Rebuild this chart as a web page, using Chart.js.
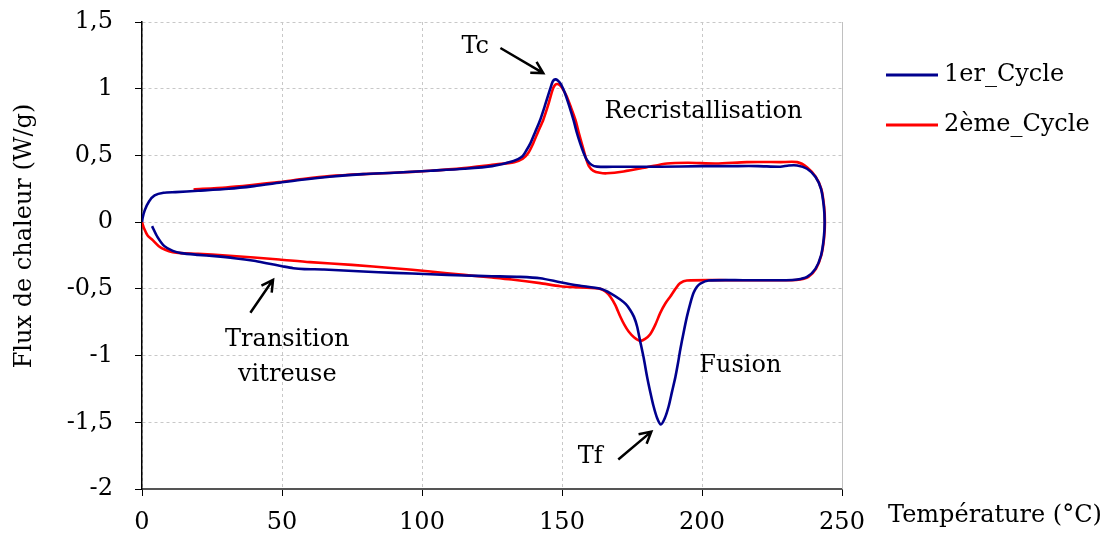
<!DOCTYPE html>
<html lang="fr">

<head>
    <meta charset="UTF-8">
    <title>DSC - Flux de chaleur</title>
    <style>
        html, body { margin: 0; padding: 0; background: #fff; }
        .chart-container { position: relative; width: 1113px; height: 540px; }
    </style>
</head>

<body>
    <div class="chart-container">
        <canvas id="chart"></canvas>
    </div>
</body>

<script src="https://cdn.jsdelivr.net/npm/chart.js@4.4.1/dist/chart.umd.min.js"></script>

<script>
    // 1er cycle : départ en bas à gauche, chauffe puis refroidissement
    const cycle1Temp = [3.6, 5.5, 8, 11, 14, 20, 26, 33, 40, 45, 50, 54, 58, 65, 79, 90, 103, 115, 125, 135, 142.2, 149.4, 156, 163.7, 167.5, 170.8, 172.8, 174.4, 175.7, 176.8, 177.9, 179.2, 180.4, 181.6, 182.7, 184, 185.3, 186.7, 188.1, 189.3, 190.5, 191.4, 192.2, 193.4, 194.6, 195.8, 197, 198.2, 199.4, 202.4, 215, 230, 234, 237.5, 240.5, 242.5, 243.5, 243.8, 243.5, 242.5, 240.5, 237.5, 234, 231, 228, 220, 210, 200, 185, 170, 162.5, 160.5, 158.9, 157.7, 156.5, 155.3, 154.1, 152.6, 151, 149.6, 148.5, 147.6, 146.7, 145.8, 144, 142.2, 140.5, 138.7, 137.2, 135.7, 132.7, 125, 115, 103, 90, 79, 67, 58, 49, 40, 31, 20, 12, 7.7, 4.5, 2.5, 1, 0.2, 0];
    const cycle1Flux = [-0.03, -0.11, -0.18, -0.215, -0.232, -0.245, -0.255, -0.27, -0.29, -0.31, -0.33, -0.345, -0.352, -0.355, -0.37, -0.38, -0.39, -0.4, -0.405, -0.41, -0.42, -0.45, -0.475, -0.5, -0.535, -0.58, -0.615, -0.66, -0.71, -0.78, -0.89, -1.02, -1.16, -1.28, -1.38, -1.47, -1.517, -1.47, -1.38, -1.27, -1.16, -1.06, -0.96, -0.83, -0.71, -0.61, -0.53, -0.485, -0.46, -0.437, -0.435, -0.435, -0.43, -0.41, -0.35, -0.25, -0.12, 0, 0.12, 0.25, 0.34, 0.4, 0.425, 0.425, 0.415, 0.42, 0.42, 0.42, 0.415, 0.415, 0.416, 0.43, 0.466, 0.52, 0.59, 0.67, 0.766, 0.87, 0.97, 1.035, 1.062, 1.07, 1.055, 1.0, 0.88, 0.766, 0.68, 0.59, 0.535, 0.49, 0.459, 0.42, 0.4, 0.385, 0.37, 0.36, 0.34, 0.32, 0.295, 0.27, 0.25, 0.235, 0.225, 0.22, 0.2, 0.155, 0.09, 0.03, 0];

    // 2ème cycle : départ à l'origine
    const cycle2Temp = [0, 0.8, 2, 3.6, 6, 8.3, 11, 14, 20, 30, 40, 49, 60, 75, 90, 103, 115, 125, 132, 142.2, 149.4, 157, 163.7, 165.5, 167.2, 169, 170.8, 172.3, 173.8, 175.8, 177.9, 179.7, 181.5, 183.3, 185.1, 186.9, 188.7, 190.5, 192.2, 194.6, 210, 232, 235, 238, 240.7, 242.6, 243.6, 243.9, 243.6, 242.6, 240.6, 237.6, 234, 228, 216, 205, 195, 187.5, 180, 172, 166, 163.5, 161.2, 159.6, 158.4, 157.2, 156, 154.8, 153.2, 151.5, 149.9, 149, 148.2, 147.4, 146.6, 145.1, 143.3, 141.5, 139.7, 138, 136, 133, 125, 115, 103, 90, 79, 67, 58, 49, 40, 30, 18.4];
    const cycle2Flux = [0, -0.05, -0.1, -0.13, -0.18, -0.207, -0.225, -0.232, -0.237, -0.25, -0.265, -0.28, -0.3, -0.32, -0.345, -0.37, -0.395, -0.415, -0.43, -0.457, -0.48, -0.49, -0.5, -0.52, -0.557, -0.62, -0.707, -0.77, -0.82, -0.865, -0.89, -0.875, -0.84, -0.77, -0.68, -0.61, -0.557, -0.5, -0.457, -0.437, -0.435, -0.435, -0.43, -0.41, -0.35, -0.25, -0.12, 0, 0.12, 0.25, 0.34, 0.41, 0.45, 0.45, 0.45, 0.44, 0.445, 0.44, 0.41, 0.38, 0.366, 0.37, 0.385, 0.42, 0.49, 0.58, 0.67, 0.766, 0.86, 0.95, 1.01, 1.03, 1.035, 1.025, 0.99, 0.88, 0.766, 0.68, 0.59, 0.52, 0.475, 0.45, 0.43, 0.405, 0.385, 0.37, 0.36, 0.345, 0.325, 0.3, 0.28, 0.26, 0.245];

    const seriesNames = ['1er_Cycle', '2ème_Cycle'];
    const seriesColors = ['#00008e', '#ff0000'];
    const xTicks = [0, 50, 100, 150, 200, 250];
    const yTicks = [-2, -1.5, -1, -0.5, 0, 0.5, 1, 1.5];

    // annotations (en unités de données)
    const notes = [
        { text: 'Tc', x: 119.0, y: 1.312 },
        { text: 'Recristallisation', x: 200.5, y: 0.826 },
        { text: 'Transition', x: 51.9, y: -0.881 },
        { text: 'vitreuse', x: 51.9, y: -1.143 },
        { text: 'Fusion', x: 213.7, y: -1.076 },
        { text: 'Tf', x: 160.1, y: -1.758 }
    ];
    const arrows = [
        { x0: 128.0, y0: 1.305, x1: 143.3, y1: 1.117 },
        { x0: 38.7, y0: -0.679, x1: 46.8, y1: -0.432 },
        { x0: 170.1, y0: -1.779, x1: 181.9, y1: -1.570 }
    ];

    const FONT = "'DejaVu Serif', serif";
    const FSIZE = 24;

    function toPoints(xs, ys) {
        return xs.map((x, i) => ({ x: x, y: ys[i] }));
    }

    const extras = {
        id: 'extras',
        afterDraw(chart) {
            const c = chart.ctx;
            const sx = chart.scales.x, sy = chart.scales.y;
            const area = chart.chartArea;
            c.save();
            // cadre droit
            c.strokeStyle = '#c0c0c0';
            c.lineWidth = 1;
            c.beginPath();
            c.moveTo(area.right + 0.5, area.top);
            c.lineTo(area.right + 0.5, area.bottom);
            c.stroke();

            // textes
            c.fillStyle = '#000';
            c.font = FSIZE + 'px ' + FONT;
            c.textAlign = 'center';
            c.textBaseline = 'middle';
            notes.forEach(n => {
                c.fillText(n.text, sx.getPixelForValue(n.x), sy.getPixelForValue(n.y));
            });

            // flèches
            c.strokeStyle = '#000';
            c.lineWidth = 2.5;
            arrows.forEach(a => {
                const x0 = sx.getPixelForValue(a.x0), y0 = sy.getPixelForValue(a.y0);
                const x1 = sx.getPixelForValue(a.x1), y1 = sy.getPixelForValue(a.y1);
                const ang = Math.atan2(y1 - y0, x1 - x0);
                const h = 13;
                c.beginPath();
                c.moveTo(x0, y0);
                c.lineTo(x1, y1);
                c.moveTo(x1 - h * Math.cos(ang - 0.5), y1 - h * Math.sin(ang - 0.5));
                c.lineTo(x1, y1);
                c.lineTo(x1 - h * Math.cos(ang + 0.5), y1 - h * Math.sin(ang + 0.5));
                c.stroke();
            });

            // légende
            c.textAlign = 'left';
            chart.data.datasets.forEach((ds, i) => {
                const ly = 75 + i * 50;
                c.strokeStyle = ds.borderColor;
                c.lineWidth = 3;
                c.beginPath();
                c.moveTo(886, ly);
                c.lineTo(938, ly);
                c.stroke();
                c.fillText(ds.label, 944, ly);
            });

            // titres des axes
            c.fillText('Température (°C)', 888, 516);
            c.translate(25, 236);
            c.rotate(-Math.PI / 2);
            c.textAlign = 'center';
            c.fillText('Flux de chaleur (W/g)', 0, 0);
            c.restore();
        }
    };

    let ctx = document.getElementById('chart');
    var config = {
        type: 'scatter',
        data: {
            datasets: [
                { label: seriesNames[0], data: toPoints(cycle1Temp, cycle1Flux), borderColor: seriesColors[0] },
                { label: seriesNames[1], data: toPoints(cycle2Temp, cycle2Flux), borderColor: seriesColors[1] }
            ]
        },
        options: {
            responsive: false,
            animation: false,
            layout: { padding: { top: 22, right: 271, left: 0, bottom: 0 } },
            elements: {
                point: { radius: 0 },
                line: { borderWidth: 2.6, tension: 0.25, fill: false }
            },
            datasets: { scatter: { showLine: true } },
            plugins: { legend: { display: false }, tooltip: { enabled: false } },
            scales: {
                x: {
                    type: 'linear', min: 0, max: 250,
                    afterFit: s => { s.height = 51; s.paddingLeft = 0; s.paddingRight = 0; },
                    afterBuildTicks: s => { s.ticks = xTicks.map(v => ({ value: v })); },
                    grid: { color: '#c8c8c8', tickColor: '#000', tickLength: 7, drawOnChartArea: true },
                    border: { color: '#555', width: 2, dash: [3, 3] },
                    ticks: { color: '#000', font: { family: FONT, size: FSIZE }, padding: 12, maxRotation: 0 }
                },
                y: {
                    type: 'linear', min: -2, max: 1.5,
                    afterFit: s => { s.width = 142; s.paddingTop = 0; s.paddingBottom = 0; },
                    afterBuildTicks: s => { s.ticks = yTicks.map(v => ({ value: v })); },
                    grid: { color: '#c8c8c8', tickColor: '#000', tickLength: 7 },
                    border: { color: '#000', width: 1.5, dash: [3, 3] },
                    ticks: {
                        color: '#000', font: { family: FONT, size: FSIZE }, padding: 22,
                        callback: v => String(v).replace('.', ',')
                    }
                }
            }
        },
        plugins: [extras]
    };
    ctx.width = 1113;
    ctx.height = 540;
    var chart = new Chart(ctx, config);
</script>

</html>
